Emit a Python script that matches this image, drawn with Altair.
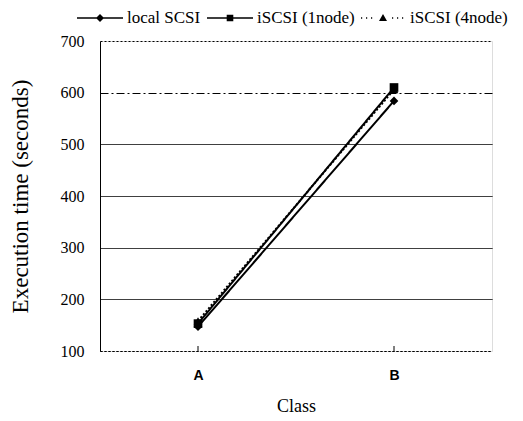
import altair as alt
import pandas as pd

classes = ["A", "B"]
series_names = ["local SCSI", "iSCSI (1node)", "iSCSI (4node)"]
local_scsi = [147, 584]
iscsi_1node = [153, 610]
iscsi_4node = [158, 606]

rows = []
for name, vals in zip(series_names, [local_scsi, iscsi_1node, iscsi_4node]):
    for c, v in zip(classes, vals):
        rows.append({"Class": c, "series": name, "time": v})
df = pd.DataFrame(rows)
ticks_df = pd.DataFrame({"Class": classes})

W, H = 392, 310
serif = "Liberation Serif"
sans = "Liberation Sans"

x_enc = alt.X("Class:N", scale=alt.Scale(type="point", domain=classes, padding=0.5),
              axis=alt.Axis(title="Class", labelFont=sans, labelFontWeight="bold", labelFontSize=14,
                            labelColor="black", labelAngle=0, labelPadding=17, ticks=False,
                            domainColor="black", domainDash=[2, 2], domainWidth=1,
                            titleFont=serif, titleFontSize=18, titleFontWeight="normal",
                            titleColor="black", titlePadding=15, grid=False))

y_axis = alt.Axis(
    values=[100, 200, 300, 400, 500, 600, 700],
    labelFont=serif, labelFontSize=16, labelColor="black", labelPadding=16,
    ticks=False, domainColor="black", domainWidth=1,
    title="Execution time  (seconds)", titleFont=serif, titleFontSize=23,
    titleFontWeight="normal", titleColor="black", titlePadding=28,
    grid=True, gridColor="black", gridWidth=1, gridOpacity=1,
    gridDash={"condition": [
        {"test": "datum.value == 600", "value": [8, 3, 2, 3]},
        {"test": "datum.value == 700 || datum.value == 100", "value": [2, 2]},
    ], "value": [1, 0]},
)
y_enc = alt.Y("time:Q", scale=alt.Scale(domain=[100, 700], nice=False), axis=y_axis)

lines = alt.Chart(df).mark_line(color="black", strokeWidth=2).encode(
    x=x_enc, y=y_enc,
    detail="series:N",
    strokeDash=alt.StrokeDash("series:N", scale=alt.Scale(domain=series_names, range=[[1, 0], [1, 0], [2, 2]]), legend=None),
)

points = alt.Chart(df).mark_point(filled=True, color="black", opacity=1, size=75).encode(
    x=x_enc, y=y_enc,
    shape=alt.Shape("series:N", scale=alt.Scale(domain=series_names, range=["diamond", "square", "triangle-up"]), legend=None),
)

# legend symbol paths: 1 unit = 10 px (symbolSize 400)
bar = "M-2.3,-0.075L2.3,-0.075L2.3,0.075L-2.3,0.075Z"
diamond_path = bar + "M0,-0.4L0.4,0L0,0.4L-0.4,0Z"
square_path = bar + "M-0.33,-0.33L0.33,-0.33L0.33,0.33L-0.33,0.33Z"
dots = "".join(f"M{p:.2f},-0.075L{p+0.12:.2f},-0.075L{p+0.12:.2f},0.075L{p:.2f},0.075Z"
               for p in [-2.2, -1.7, -1.2, 0.9, 1.4, 1.9])
tri_path = dots + "M0,-0.4L0.4,0.3L-0.4,0.3Z"

legend_layer = alt.Chart(df).mark_point(filled=True, color="black").encode(
    x=x_enc, y=y_enc,
    shape=alt.Shape("series:N",
                    scale=alt.Scale(domain=series_names, range=[diamond_path, square_path, tri_path]),
                    legend=alt.Legend(title=None, orient="none", legendX=-10, legendY=-33,
                                      direction="horizontal", labelFont=serif, labelFontSize=17,
                                      labelColor="black", symbolSize=400, symbolStrokeWidth=0,
                                      symbolFillColor="black", gridAlign="none",
                                      symbolOpacity=1, labelOffset=17, columnPadding=6, padding=0)),
).transform_filter("false")

xticks = alt.Chart(ticks_df).mark_rule(color="black", strokeWidth=1).encode(
    x=alt.X("Class:N", scale=alt.Scale(type="point", domain=classes, padding=0.5)),
    y=alt.value(H), y2=alt.value(H - 5),
)

chart = alt.layer(lines, points, legend_layer, xticks).resolve_scale(shape="independent").properties(
    width=W, height=H,
    autosize=alt.AutoSizeParams(type="none"),
    padding={"left": 92, "top": 33, "right": 23, "bottom": 66},
).configure_view(stroke="black", strokeDash=[2, 2], strokeWidth=1).configure(background="white")

chart.save("out.html", embed_options={"renderer": "svg", "actions": False})
